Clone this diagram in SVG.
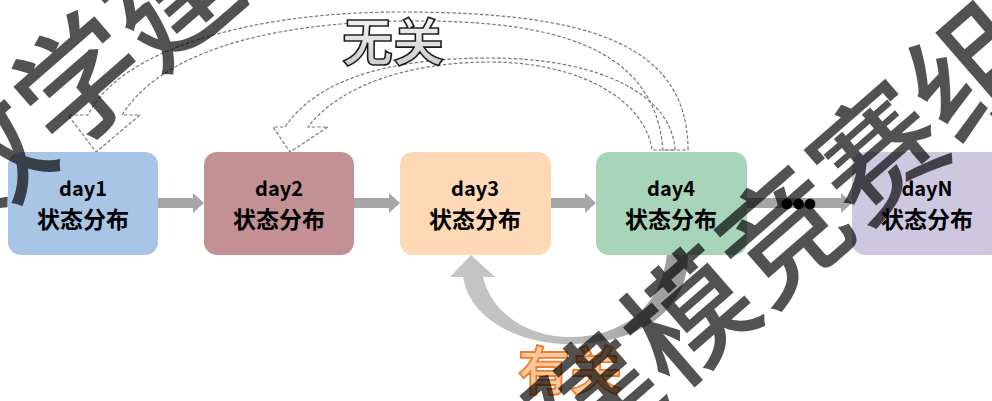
<svg xmlns="http://www.w3.org/2000/svg" width="992" height="401" viewBox="0 0 992 401">
  <defs>
    <linearGradient id="gBack" x1="0" y1="0" x2="1" y2="0">
      <stop offset="0" stop-color="#c6c6c6"/>
      <stop offset="0.5" stop-color="#bcbcbc"/>
      <stop offset="1" stop-color="#979797"/>
    </linearGradient>
    <linearGradient id="gLabel" x1="0" y1="0" x2="0" y2="1">
      <stop offset="0" stop-color="#ffffff"/>
      <stop offset="0.5" stop-color="#e3e3e3"/>
      <stop offset="1" stop-color="#c4c4c4"/>
    </linearGradient>
    <style>
      .box { stroke: none; }
      .t1 { font-family: "Noto Sans CJK SC", "Liberation Sans", sans-serif; font-weight: bold; font-size: 20px; fill: #000; text-anchor: middle; }
      .t2 { font-family: "Noto Sans CJK SC", sans-serif; font-weight: bold; font-size: 23px; fill: #000; text-anchor: middle; }
      .flow { fill: #a6a6a6; stroke: none; }
      .dash { fill: none; stroke: #777777; stroke-width: 1.2; stroke-dasharray: 3.5 2; }
      .wm { font-family: "Noto Sans CJK SC", sans-serif; font-weight: 500; font-size: 125px; fill: #000; fill-opacity: 0.68; }
    </style>
  </defs>
  <rect width="992" height="401" fill="#ffffff"/>

  <g id="connectors">
    <path class="flow" d="M158,198 H193 V193 L204,203 L193,213 V208 H158 Z"/>
    <path class="flow" d="M354,198 H389 V193 L400,203 L389,213 V208 H354 Z"/>
    <path class="flow" d="M551,198 H585 V193 L596,203 L585,213 V208 H551 Z"/>
    <path class="flow" d="M747,198 H841 V193 L852,203 L841,213 V208 H747 Z"/>
    <circle cx="787" cy="204" r="5.4" fill="#000"/>
    <circle cx="798.5" cy="204" r="5.4" fill="#000"/>
    <circle cx="810" cy="204" r="5.4" fill="#000"/>
    <path class="dash" d="M688,150 C688,40 580,12 400,12 C250,12 120,50 88,115 L68,115 L96,152 L140,115 L122,115 C160,55 260,22 410,21 C550,20 655,45 663,150 Z"/>
    <path class="dash" d="M675,150 C672,95 600,58 490,58 C400,58 320,75 285,127 L273,127 L290,152 L328,127 L308,127 C340,85 410,62 490,62 C580,62 645,100 652,150 Z"/>
    <path fill="url(#gBack)" d="M688,255 C688,310 640,344 570,344 C520,344 470,320 463,277 L450,277 L471,255 L495,277 L483,277 C492,315 530,337 570,337 C620,337 660,310 667,255 Z"/>
  </g>

  <g id="day1">
    <rect class="box" x="8" y="152" width="150" height="103" rx="13" fill="#a9c5e6"/>
    <text class="t1" x="83" y="196">day1</text>
    <text class="t2" x="83" y="228">状态分布</text>
  </g>
  <g id="day2">
    <rect class="box" x="204" y="152" width="150" height="103" rx="13" fill="#c39194"/>
    <text class="t1" x="279" y="196">day2</text>
    <text class="t2" x="279" y="228">状态分布</text>
  </g>
  <g id="day3">
    <rect class="box" x="400" y="152" width="151" height="103" rx="13" fill="#fdd9b6"/>
    <text class="t1" x="475" y="196">day3</text>
    <text class="t2" x="475" y="228">状态分布</text>
  </g>
  <g id="day4">
    <rect class="box" x="596" y="152" width="151" height="103" rx="13" fill="#a8d5ba"/>
    <text class="t1" x="671" y="196">day4</text>
    <text class="t2" x="671" y="228">状态分布</text>
  </g>
  <g id="dayN">
    <rect class="box" x="852" y="152" width="150" height="103" rx="13" fill="#cdc7df"/>
    <text class="t1" x="927" y="196">dayN</text>
    <text class="t2" x="927" y="228">状态分布</text>
  </g>

  <g id="label-unrelated">
    <text x="393" y="61" font-family="Noto Sans CJK SC, sans-serif" font-weight="bold" font-size="51" text-anchor="middle" fill="url(#gLabel)" stroke="#1a1a1a" stroke-width="1.6">无关</text>
  </g>
  <g id="label-related">
    <text x="570" y="390" font-family="Noto Sans CJK SC, sans-serif" font-weight="bold" font-size="52" text-anchor="middle" fill="#f9c89b" stroke="#ed7d31" stroke-width="1.8">有关</text>
  </g>

  <g id="watermark">
    <text class="wm" transform="translate(80,82) rotate(-41)" x="-187.5" y="45">数学建模竞赛组</text>
    <text class="wm" transform="translate(690,318) rotate(-41)" x="-437.5" y="45">数学建模竞赛组委会</text>
  </g>
</svg>
